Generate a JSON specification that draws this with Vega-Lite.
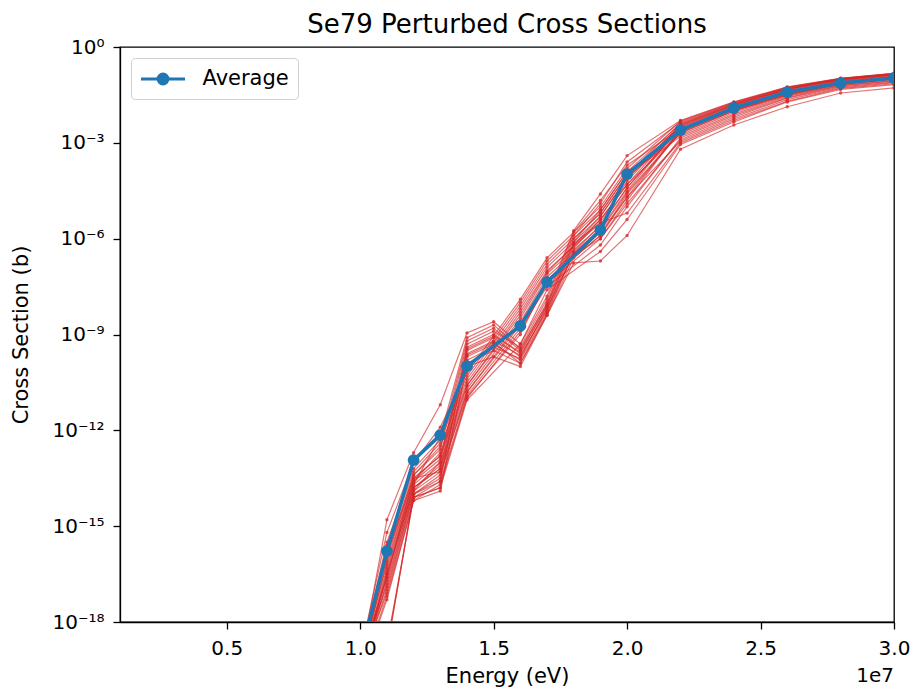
{
"$schema": "https://vega.github.io/schema/vega-lite/v6.json",
"autosize": "none",
"width": 774,
"height": 575,
"padding": {"left": 120, "top": 47, "right": 20, "bottom": 70},
"background": "white",
"title": {"text": "Se79 Perturbed Cross Sections", "fontSize": 26, "fontWeight": "normal", "font": "DejaVu Sans", "color": "black", "offset": -1, "anchor": "middle"},
"config": {
  "font": "DejaVu Sans",
  "view": {"stroke": "black", "strokeWidth": 1.3},
  "axis": {"labelFont": "DejaVu Sans", "titleFont": "DejaVu Sans", "labelFontSize": 20, "titleFontSize": 21, "titleFontWeight": "normal", "labelColor": "black", "titleColor": "black", "tickColor": "black", "domainColor": "black", "tickSize": 7, "tickWidth": 1.3, "domainWidth": 1.3, "grid": false}
},
"datasets": {
"perturbed": [
{"sample":"a1","energy":1.0e7,"xs":5.0e-20},{"sample":"a1","energy":1.1e7,"xs":1.58e-15},{"sample":"a1","energy":1.2e7,"xs":2.0e-13},{"sample":"a1","energy":1.3e7,"xs":6.31e-12},{"sample":"a1","energy":1.4e7,"xs":1.12e-9},{"sample":"a1","energy":1.5e7,"xs":2.51e-9},{"sample":"a1","energy":1.6e7,"xs":5.01e-10},{"sample":"a1","energy":1.7e7,"xs":1.58e-8},{"sample":"a1","energy":1.8e7,"xs":1.78e-6},{"sample":"a1","energy":1.9e7,"xs":2.51e-5},{"sample":"a1","energy":2.0e7,"xs":3.98e-4},{"sample":"a1","energy":2.2e7,"xs":5.01e-3},{"sample":"a1","energy":2.4e7,"xs":1.91e-2},{"sample":"a1","energy":2.6e7,"xs":5.62e-2},{"sample":"a1","energy":2.8e7,"xs":1.05e-1},{"sample":"a1","energy":3.0e7,"xs":1.51e-1},
{"sample":"a2","energy":1.0e7,"xs":3.16e-20},{"sample":"a2","energy":1.1e7,"xs":2.51e-16},{"sample":"a2","energy":1.2e7,"xs":5.01e-14},{"sample":"a2","energy":1.3e7,"xs":3.98e-13},{"sample":"a2","energy":1.4e7,"xs":6.31e-10},{"sample":"a2","energy":1.5e7,"xs":1.58e-9},{"sample":"a2","energy":1.6e7,"xs":3.16e-10},{"sample":"a2","energy":1.7e7,"xs":1.0e-8},{"sample":"a2","energy":1.8e7,"xs":1.26e-6},{"sample":"a2","energy":1.9e7,"xs":1.26e-5},{"sample":"a2","energy":2.0e7,"xs":2.51e-4},{"sample":"a2","energy":2.2e7,"xs":4.47e-3},{"sample":"a2","energy":2.4e7,"xs":1.78e-2},{"sample":"a2","energy":2.6e7,"xs":5.37e-2},{"sample":"a2","energy":2.8e7,"xs":1.02e-1},{"sample":"a2","energy":3.0e7,"xs":1.48e-1},
{"sample":"a3","energy":1.0e7,"xs":6.31e-20},{"sample":"a3","energy":1.1e7,"xs":6.31e-17},{"sample":"a3","energy":1.2e7,"xs":2.51e-14},{"sample":"a3","energy":1.3e7,"xs":1.26e-13},{"sample":"a3","energy":1.4e7,"xs":3.98e-10},{"sample":"a3","energy":1.5e7,"xs":1.0e-9},{"sample":"a3","energy":1.6e7,"xs":2.51e-10},{"sample":"a3","energy":1.7e7,"xs":7.94e-9},{"sample":"a3","energy":1.8e7,"xs":7.94e-7},{"sample":"a3","energy":1.9e7,"xs":7.94e-6},{"sample":"a3","energy":2.0e7,"xs":1.26e-4},{"sample":"a3","energy":2.2e7,"xs":3.98e-3},{"sample":"a3","energy":2.4e7,"xs":1.66e-2},{"sample":"a3","energy":2.6e7,"xs":5.01e-2},{"sample":"a3","energy":2.8e7,"xs":1.0e-1},{"sample":"a3","energy":3.0e7,"xs":1.41e-1},
{"sample":"a4","energy":1.0e7,"xs":2.51e-20},{"sample":"a4","energy":1.1e7,"xs":3.16e-17},{"sample":"a4","energy":1.2e7,"xs":1.58e-14},{"sample":"a4","energy":1.3e7,"xs":6.31e-14},{"sample":"a4","energy":1.4e7,"xs":3.16e-10},{"sample":"a4","energy":1.5e7,"xs":7.94e-10},{"sample":"a4","energy":1.6e7,"xs":2.0e-10},{"sample":"a4","energy":1.7e7,"xs":6.31e-9},{"sample":"a4","energy":1.8e7,"xs":6.31e-7},{"sample":"a4","energy":1.9e7,"xs":5.01e-6},{"sample":"a4","energy":2.0e7,"xs":7.94e-5},{"sample":"a4","energy":2.2e7,"xs":3.55e-3},{"sample":"a4","energy":2.4e7,"xs":1.58e-2},{"sample":"a4","energy":2.6e7,"xs":4.79e-2},{"sample":"a4","energy":2.8e7,"xs":9.55e-2},{"sample":"a4","energy":3.0e7,"xs":1.38e-1},
{"sample":"a5","energy":1.0e7,"xs":3.98e-20},{"sample":"a5","energy":1.1e7,"xs":1.0e-17},{"sample":"a5","energy":1.2e7,"xs":1.0e-14},{"sample":"a5","energy":1.3e7,"xs":3.16e-14},{"sample":"a5","energy":1.4e7,"xs":2.0e-10},{"sample":"a5","energy":1.5e7,"xs":5.01e-10},{"sample":"a5","energy":1.6e7,"xs":1.58e-10},{"sample":"a5","energy":1.7e7,"xs":5.01e-9},{"sample":"a5","energy":1.8e7,"xs":3.98e-7},{"sample":"a5","energy":1.9e7,"xs":2.51e-6},{"sample":"a5","energy":2.0e7,"xs":3.98e-5},{"sample":"a5","energy":2.2e7,"xs":3.16e-3},{"sample":"a5","energy":2.4e7,"xs":1.41e-2},{"sample":"a5","energy":2.6e7,"xs":4.47e-2},{"sample":"a5","energy":2.8e7,"xs":8.91e-2},{"sample":"a5","energy":3.0e7,"xs":1.32e-1},
{"sample":"a6","energy":1.0e7,"xs":1.58e-20},{"sample":"a6","energy":1.1e7,"xs":2.0e-19},{"sample":"a6","energy":1.2e7,"xs":7.94e-15},{"sample":"a6","energy":1.3e7,"xs":1.58e-14},{"sample":"a6","energy":1.4e7,"xs":1.26e-10},{"sample":"a6","energy":1.5e7,"xs":3.16e-10},{"sample":"a6","energy":1.6e7,"xs":1.26e-10},{"sample":"a6","energy":1.7e7,"xs":3.98e-9},{"sample":"a6","energy":1.8e7,"xs":2.51e-7},{"sample":"a6","energy":1.9e7,"xs":1.26e-6},{"sample":"a6","energy":2.0e7,"xs":2.0e-5},{"sample":"a6","energy":2.2e7,"xs":2.51e-3},{"sample":"a6","energy":2.4e7,"xs":1.26e-2},{"sample":"a6","energy":2.6e7,"xs":3.98e-2},{"sample":"a6","energy":2.8e7,"xs":8.32e-2},{"sample":"a6","energy":3.0e7,"xs":1.2e-1},
{"sample":"a7","energy":1.0e7,"xs":7.94e-20},{"sample":"a7","energy":1.1e7,"xs":1.26e-16},{"sample":"a7","energy":1.2e7,"xs":3.98e-14},{"sample":"a7","energy":1.3e7,"xs":2.51e-13},{"sample":"a7","energy":1.4e7,"xs":5.01e-10},{"sample":"a7","energy":1.5e7,"xs":1.26e-9},{"sample":"a7","energy":1.6e7,"xs":3.98e-10},{"sample":"a7","energy":1.7e7,"xs":1.26e-8},{"sample":"a7","energy":1.8e7,"xs":1.58e-6},{"sample":"a7","energy":1.9e7,"xs":1.58e-5},{"sample":"a7","energy":2.0e7,"xs":2.0e-4},{"sample":"a7","energy":2.2e7,"xs":2.82e-3},{"sample":"a7","energy":2.4e7,"xs":1.12e-2},{"sample":"a7","energy":2.6e7,"xs":3.55e-2},{"sample":"a7","energy":2.8e7,"xs":7.59e-2},{"sample":"a7","energy":3.0e7,"xs":1.12e-1},
{"sample":"a8","energy":1.0e7,"xs":5.01e-20},{"sample":"a8","energy":1.1e7,"xs":1.58e-17},{"sample":"a8","energy":1.2e7,"xs":1.26e-14},{"sample":"a8","energy":1.3e7,"xs":1.0e-13},{"sample":"a8","energy":1.4e7,"xs":2.51e-10},{"sample":"a8","energy":1.5e7,"xs":6.31e-10},{"sample":"a8","energy":1.6e7,"xs":2.24e-10},{"sample":"a8","energy":1.7e7,"xs":5.62e-9},{"sample":"a8","energy":1.8e7,"xs":5.01e-7},{"sample":"a8","energy":1.9e7,"xs":3.98e-6},{"sample":"a8","energy":2.0e7,"xs":5.01e-5},{"sample":"a8","energy":2.2e7,"xs":2.0e-3},{"sample":"a8","energy":2.4e7,"xs":1.0e-2},{"sample":"a8","energy":2.6e7,"xs":3.16e-2},{"sample":"a8","energy":2.8e7,"xs":7.08e-2},{"sample":"a8","energy":3.0e7,"xs":1.0e-1},
{"sample":"a9","energy":1.0e7,"xs":2.0e-20},{"sample":"a9","energy":1.1e7,"xs":5.01e-18},{"sample":"a9","energy":1.2e7,"xs":6.31e-15},{"sample":"a9","energy":1.3e7,"xs":1.26e-14},{"sample":"a9","energy":1.4e7,"xs":1.0e-10},{"sample":"a9","energy":1.5e7,"xs":2.0e-10},{"sample":"a9","energy":1.6e7,"xs":1.0e-10},{"sample":"a9","energy":1.7e7,"xs":3.98e-9},{"sample":"a9","energy":1.8e7,"xs":1.74e-7},{"sample":"a9","energy":1.9e7,"xs":2.0e-7},{"sample":"a9","energy":2.0e7,"xs":1.26e-6},{"sample":"a9","energy":2.2e7,"xs":6.31e-4},{"sample":"a9","energy":2.4e7,"xs":3.63e-3},{"sample":"a9","energy":2.6e7,"xs":1.35e-2},{"sample":"a9","energy":2.8e7,"xs":3.63e-2},{"sample":"a9","energy":3.0e7,"xs":5.25e-2},
{"sample":"a10","energy":1.0e7,"xs":3.16e-20},{"sample":"a10","energy":1.1e7,"xs":3.98e-17},{"sample":"a10","energy":1.2e7,"xs":2.0e-14},{"sample":"a10","energy":1.3e7,"xs":6.31e-13},{"sample":"a10","energy":1.4e7,"xs":7.94e-10},{"sample":"a10","energy":1.5e7,"xs":2.0e-9},{"sample":"a10","energy":1.6e7,"xs":3.55e-10},{"sample":"a10","energy":1.7e7,"xs":8.91e-9},{"sample":"a10","energy":1.8e7,"xs":1.0e-6},{"sample":"a10","energy":1.9e7,"xs":6.31e-6},{"sample":"a10","energy":2.0e7,"xs":1.0e-4},{"sample":"a10","energy":2.2e7,"xs":1.58e-3},{"sample":"a10","energy":2.4e7,"xs":7.94e-3},{"sample":"a10","energy":2.6e7,"xs":2.82e-2},{"sample":"a10","energy":2.8e7,"xs":6.31e-2},{"sample":"a10","energy":3.0e7,"xs":8.91e-2},
{"sample":"a11","energy":1.0e7,"xs":3.98e-20},{"sample":"a11","energy":1.1e7,"xs":1.0e-16},{"sample":"a11","energy":1.2e7,"xs":3.16e-14},{"sample":"a11","energy":1.3e7,"xs":5.01e-14},{"sample":"a11","energy":1.4e7,"xs":1.58e-10},{"sample":"a11","energy":1.5e7,"xs":3.98e-10},{"sample":"a11","energy":1.6e7,"xs":1.78e-10},{"sample":"a11","energy":1.7e7,"xs":7.08e-9},{"sample":"a11","energy":1.8e7,"xs":3.16e-7},{"sample":"a11","energy":1.9e7,"xs":1.0e-6},{"sample":"a11","energy":2.0e7,"xs":1.26e-5},{"sample":"a11","energy":2.2e7,"xs":1.26e-3},{"sample":"a11","energy":2.4e7,"xs":6.31e-3},{"sample":"a11","energy":2.6e7,"xs":2.51e-2},{"sample":"a11","energy":2.8e7,"xs":5.62e-2},{"sample":"a11","energy":3.0e7,"xs":7.94e-2},
{"sample":"a12","energy":1.0e7,"xs":1.26e-20},{"sample":"a12","energy":1.1e7,"xs":1.26e-19},{"sample":"a12","energy":1.2e7,"xs":1.0e-14},{"sample":"a12","energy":1.3e7,"xs":2.51e-14},{"sample":"a12","energy":1.4e7,"xs":3.55e-10},{"sample":"a12","energy":1.5e7,"xs":8.91e-10},{"sample":"a12","energy":1.6e7,"xs":2.82e-10},{"sample":"a12","energy":1.7e7,"xs":7.94e-9},{"sample":"a12","energy":1.8e7,"xs":7.08e-7},{"sample":"a12","energy":1.9e7,"xs":3.16e-6},{"sample":"a12","energy":2.0e7,"xs":6.31e-6},{"sample":"a12","energy":2.2e7,"xs":1.0e-3},{"sample":"a12","energy":2.4e7,"xs":5.01e-3},{"sample":"a12","energy":2.6e7,"xs":2.0e-2},{"sample":"a12","energy":2.8e7,"xs":5.01e-2},{"sample":"a12","energy":3.0e7,"xs":7.08e-2},
{"sample":"a13","energy":1.0e7,"xs":6.31e-20},{"sample":"a13","energy":1.1e7,"xs":2.51e-17},{"sample":"a13","energy":1.2e7,"xs":3.16e-14},{"sample":"a13","energy":1.3e7,"xs":1.58e-13},{"sample":"a13","energy":1.4e7,"xs":2.24e-10},{"sample":"a13","energy":1.5e7,"xs":5.62e-10},{"sample":"a13","energy":1.6e7,"xs":1.26e-10},{"sample":"a13","energy":1.7e7,"xs":4.47e-9},{"sample":"a13","energy":1.8e7,"xs":3.55e-7},{"sample":"a13","energy":1.9e7,"xs":1.78e-6},{"sample":"a13","energy":2.0e7,"xs":2.82e-5},{"sample":"a13","energy":2.2e7,"xs":2.24e-3},{"sample":"a13","energy":2.4e7,"xs":1.05e-2},{"sample":"a13","energy":2.6e7,"xs":3.31e-2},{"sample":"a13","energy":2.8e7,"xs":7.41e-2},{"sample":"a13","energy":3.0e7,"xs":1.05e-1},
{"sample":"b1","energy":1.0e7,"xs":1.0e-19},{"sample":"b1","energy":1.1e7,"xs":6.31e-16},{"sample":"b1","energy":1.2e7,"xs":1.0e-13},{"sample":"b1","energy":1.3e7,"xs":1.26e-12},{"sample":"b1","energy":1.4e7,"xs":6.31e-11},{"sample":"b1","energy":1.6e7,"xs":1.26e-8},{"sample":"b1","energy":1.7e7,"xs":2.51e-7},{"sample":"b1","energy":1.9e7,"xs":1.0e-5},{"sample":"b1","energy":2.0e7,"xs":1.58e-4},{"sample":"b1","energy":2.2e7,"xs":4.79e-3},{"sample":"b1","energy":2.4e7,"xs":1.86e-2},{"sample":"b1","energy":2.6e7,"xs":5.5e-2},{"sample":"b1","energy":2.8e7,"xs":1.05e-1},{"sample":"b1","energy":3.0e7,"xs":1.51e-1},
{"sample":"b2","energy":1.0e7,"xs":5.01e-20},{"sample":"b2","energy":1.1e7,"xs":1.58e-16},{"sample":"b2","energy":1.2e7,"xs":3.98e-14},{"sample":"b2","energy":1.3e7,"xs":3.16e-13},{"sample":"b2","energy":1.4e7,"xs":3.98e-11},{"sample":"b2","energy":1.6e7,"xs":7.94e-9},{"sample":"b2","energy":1.7e7,"xs":1.58e-7},{"sample":"b2","energy":1.9e7,"xs":6.31e-6},{"sample":"b2","energy":2.0e7,"xs":1.0e-4},{"sample":"b2","energy":2.2e7,"xs":4.17e-3},{"sample":"b2","energy":2.4e7,"xs":1.74e-2},{"sample":"b2","energy":2.6e7,"xs":5.25e-2},{"sample":"b2","energy":2.8e7,"xs":1.0e-1},{"sample":"b2","energy":3.0e7,"xs":1.45e-1},
{"sample":"b3","energy":1.0e7,"xs":3.16e-20},{"sample":"b3","energy":1.1e7,"xs":5.01e-17},{"sample":"b3","energy":1.2e7,"xs":2.0e-14},{"sample":"b3","energy":1.3e7,"xs":1.0e-13},{"sample":"b3","energy":1.4e7,"xs":2.51e-11},{"sample":"b3","energy":1.6e7,"xs":5.01e-9},{"sample":"b3","energy":1.7e7,"xs":1.0e-7},{"sample":"b3","energy":1.9e7,"xs":3.16e-6},{"sample":"b3","energy":2.0e7,"xs":6.31e-5},{"sample":"b3","energy":2.2e7,"xs":3.8e-3},{"sample":"b3","energy":2.4e7,"xs":1.58e-2},{"sample":"b3","energy":2.6e7,"xs":4.9e-2},{"sample":"b3","energy":2.8e7,"xs":9.77e-2},{"sample":"b3","energy":3.0e7,"xs":1.41e-1},
{"sample":"b4","energy":1.0e7,"xs":6.31e-20},{"sample":"b4","energy":1.1e7,"xs":1.26e-17},{"sample":"b4","energy":1.2e7,"xs":1.0e-14},{"sample":"b4","energy":1.3e7,"xs":3.98e-14},{"sample":"b4","energy":1.4e7,"xs":1.58e-11},{"sample":"b4","energy":1.6e7,"xs":2.51e-9},{"sample":"b4","energy":1.7e7,"xs":6.31e-8},{"sample":"b4","energy":1.9e7,"xs":2.0e-6},{"sample":"b4","energy":2.0e7,"xs":3.16e-5},{"sample":"b4","energy":2.2e7,"xs":3.31e-3},{"sample":"b4","energy":2.4e7,"xs":1.48e-2},{"sample":"b4","energy":2.6e7,"xs":4.68e-2},{"sample":"b4","energy":2.8e7,"xs":9.33e-2},{"sample":"b4","energy":3.0e7,"xs":1.35e-1},
{"sample":"b5","energy":1.0e7,"xs":2.51e-20},{"sample":"b5","energy":1.1e7,"xs":6.31e-18},{"sample":"b5","energy":1.2e7,"xs":6.31e-15},{"sample":"b5","energy":1.3e7,"xs":2.0e-14},{"sample":"b5","energy":1.4e7,"xs":1.0e-11},{"sample":"b5","energy":1.6e7,"xs":1.26e-9},{"sample":"b5","energy":1.7e7,"xs":3.98e-8},{"sample":"b5","energy":1.9e7,"xs":1.0e-6},{"sample":"b5","energy":2.0e7,"xs":1.58e-5},{"sample":"b5","energy":2.2e7,"xs":2.63e-3},{"sample":"b5","energy":2.4e7,"xs":1.2e-2},{"sample":"b5","energy":2.6e7,"xs":3.8e-2},{"sample":"b5","energy":2.8e7,"xs":7.94e-2},{"sample":"b5","energy":3.0e7,"xs":1.17e-1},
{"sample":"b6","energy":1.0e7,"xs":3.98e-20},{"sample":"b6","energy":1.1e7,"xs":7.94e-17},{"sample":"b6","energy":1.2e7,"xs":2.51e-14},{"sample":"b6","energy":1.3e7,"xs":2.0e-13},{"sample":"b6","energy":1.4e7,"xs":3.16e-11},{"sample":"b6","energy":1.6e7,"xs":6.31e-9},{"sample":"b6","energy":1.7e7,"xs":1.26e-7},{"sample":"b6","energy":1.9e7,"xs":5.01e-6},{"sample":"b6","energy":2.0e7,"xs":7.94e-5},{"sample":"b6","energy":2.2e7,"xs":2.4e-3},{"sample":"b6","energy":2.4e7,"xs":1.1e-2},{"sample":"b6","energy":2.6e7,"xs":3.47e-2},{"sample":"b6","energy":2.8e7,"xs":7.59e-2},{"sample":"b6","energy":3.0e7,"xs":1.1e-1},
{"sample":"b7","energy":1.0e7,"xs":7.94e-20},{"sample":"b7","energy":1.1e7,"xs":3.16e-16},{"sample":"b7","energy":1.2e7,"xs":6.31e-14},{"sample":"b7","energy":1.3e7,"xs":5.01e-13},{"sample":"b7","energy":1.4e7,"xs":5.01e-11},{"sample":"b7","energy":1.6e7,"xs":1.0e-8},{"sample":"b7","energy":1.7e7,"xs":2.0e-7},{"sample":"b7","energy":1.9e7,"xs":7.94e-6},{"sample":"b7","energy":2.0e7,"xs":1.26e-4},{"sample":"b7","energy":2.2e7,"xs":1.78e-3},{"sample":"b7","energy":2.4e7,"xs":8.91e-3},{"sample":"b7","energy":2.6e7,"xs":3.02e-2},{"sample":"b7","energy":2.8e7,"xs":6.61e-2},{"sample":"b7","energy":3.0e7,"xs":9.55e-2},
{"sample":"b8","energy":1.0e7,"xs":2.0e-20},{"sample":"b8","energy":1.1e7,"xs":2.0e-17},{"sample":"b8","energy":1.2e7,"xs":1.26e-14},{"sample":"b8","energy":1.3e7,"xs":5.01e-14},{"sample":"b8","energy":1.4e7,"xs":1.26e-11},{"sample":"b8","energy":1.6e7,"xs":1.58e-9},{"sample":"b8","energy":1.7e7,"xs":3.16e-8},{"sample":"b8","energy":1.9e7,"xs":6.31e-7},{"sample":"b8","energy":2.0e7,"xs":1.0e-5},{"sample":"b8","energy":2.2e7,"xs":1.41e-3},{"sample":"b8","energy":2.4e7,"xs":7.08e-3},{"sample":"b8","energy":2.6e7,"xs":2.63e-2},{"sample":"b8","energy":2.8e7,"xs":6.03e-2},{"sample":"b8","energy":3.0e7,"xs":8.51e-2},
{"sample":"b9","energy":1.0e7,"xs":5.01e-20},{"sample":"b9","energy":1.1e7,"xs":7.94e-18},{"sample":"b9","energy":1.2e7,"xs":7.94e-15},{"sample":"b9","energy":1.3e7,"xs":1.58e-14},{"sample":"b9","energy":1.4e7,"xs":8.91e-12},{"sample":"b9","energy":1.6e7,"xs":5.01e-10},{"sample":"b9","energy":1.7e7,"xs":2.51e-8},{"sample":"b9","energy":1.9e7,"xs":3.98e-7},{"sample":"b9","energy":2.0e7,"xs":3.98e-6},{"sample":"b9","energy":2.2e7,"xs":8.91e-4},{"sample":"b9","energy":2.4e7,"xs":4.47e-3},{"sample":"b9","energy":2.6e7,"xs":1.91e-2},{"sample":"b9","energy":2.8e7,"xs":4.68e-2},{"sample":"b9","energy":3.0e7,"xs":6.61e-2},
{"sample":"b10","energy":1.0e7,"xs":3.16e-20},{"sample":"b10","energy":1.1e7,"xs":3.16e-17},{"sample":"b10","energy":1.2e7,"xs":1.58e-14},{"sample":"b10","energy":1.3e7,"xs":7.94e-14},{"sample":"b10","energy":1.4e7,"xs":2.0e-11},{"sample":"b10","energy":1.6e7,"xs":3.16e-9},{"sample":"b10","energy":1.7e7,"xs":7.94e-8},{"sample":"b10","energy":1.9e7,"xs":2.51e-6},{"sample":"b10","energy":2.0e7,"xs":3.98e-5},{"sample":"b10","energy":2.2e7,"xs":3.02e-3},{"sample":"b10","energy":2.4e7,"xs":1.32e-2},{"sample":"b10","energy":2.6e7,"xs":4.17e-2},{"sample":"b10","energy":2.8e7,"xs":8.71e-2},{"sample":"b10","energy":3.0e7,"xs":1.26e-1},
{"sample":"b11","energy":1.0e7,"xs":1.58e-20},{"sample":"b11","energy":1.1e7,"xs":1.58e-19},{"sample":"b11","energy":1.2e7,"xs":7.94e-15},{"sample":"b11","energy":1.3e7,"xs":2.51e-14},{"sample":"b11","energy":1.4e7,"xs":1.12e-11},{"sample":"b11","energy":1.6e7,"xs":1.0e-9},{"sample":"b11","energy":1.7e7,"xs":5.01e-8},{"sample":"b11","energy":1.9e7,"xs":1.26e-6},{"sample":"b11","energy":2.0e7,"xs":2.51e-5},{"sample":"b11","energy":2.2e7,"xs":2.09e-3},{"sample":"b11","energy":2.4e7,"xs":1.0e-2},{"sample":"b11","energy":2.6e7,"xs":3.16e-2},{"sample":"b11","energy":2.8e7,"xs":6.92e-2},{"sample":"b11","energy":3.0e7,"xs":1.0e-1},
{"sample":"b12","energy":1.0e7,"xs":6.31e-20},{"sample":"b12","energy":1.1e7,"xs":1.26e-16},{"sample":"b12","energy":1.2e7,"xs":3.16e-14},{"sample":"b12","energy":1.3e7,"xs":1.58e-13},{"sample":"b12","energy":1.4e7,"xs":2.51e-11},{"sample":"b12","energy":1.6e7,"xs":3.98e-9},{"sample":"b12","energy":1.7e7,"xs":8.91e-8},{"sample":"b12","energy":1.9e7,"xs":3.98e-6},{"sample":"b12","energy":2.0e7,"xs":5.01e-5},{"sample":"b12","energy":2.2e7,"xs":3.55e-3},{"sample":"b12","energy":2.4e7,"xs":1.51e-2},{"sample":"b12","energy":2.6e7,"xs":4.79e-2},{"sample":"b12","energy":2.8e7,"xs":9.55e-2},{"sample":"b12","energy":3.0e7,"xs":1.38e-1},
{"sample":"b13","energy":1.0e7,"xs":3.98e-20},{"sample":"b13","energy":1.1e7,"xs":2.51e-17},{"sample":"b13","energy":1.2e7,"xs":1.58e-14},{"sample":"b13","energy":1.3e7,"xs":6.31e-14},{"sample":"b13","energy":1.4e7,"xs":1.58e-11},{"sample":"b13","energy":1.6e7,"xs":2.0e-9},{"sample":"b13","energy":1.7e7,"xs":5.01e-8},{"sample":"b13","energy":1.9e7,"xs":1.58e-6},{"sample":"b13","energy":2.0e7,"xs":2.0e-5},{"sample":"b13","energy":2.2e7,"xs":1.12e-3},{"sample":"b13","energy":2.4e7,"xs":5.62e-3},{"sample":"b13","energy":2.6e7,"xs":2.24e-2},{"sample":"b13","energy":2.8e7,"xs":5.25e-2},{"sample":"b13","energy":3.0e7,"xs":7.59e-2}
],
"average": [
{"sample":"Average","energy":1.0e7,"xs":7.94e-20},{"sample":"Average","energy":1.1e7,"xs":1.66e-16},{"sample":"Average","energy":1.2e7,"xs":1.17e-13},{"sample":"Average","energy":1.3e7,"xs":7.08e-13},{"sample":"Average","energy":1.4e7,"xs":1.02e-10},{"sample":"Average","energy":1.6e7,"xs":1.86e-9},{"sample":"Average","energy":1.7e7,"xs":4.37e-8},{"sample":"Average","energy":1.9e7,"xs":1.86e-6},{"sample":"Average","energy":2.0e7,"xs":1.05e-4},{"sample":"Average","energy":2.2e7,"xs":2.51e-3},{"sample":"Average","energy":2.4e7,"xs":1.23e-2},{"sample":"Average","energy":2.6e7,"xs":3.89e-2},{"sample":"Average","energy":2.8e7,"xs":7.41e-2},{"sample":"Average","energy":3.0e7,"xs":1.07e-1}
],
"offset": [{"energy": 3.0e7, "xs": 1e-18, "label": "1e7"}]
},
"encoding": {
  "x": {"field": "energy", "type": "quantitative", "scale": {"type": "linear", "domain": [1000000, 30000000], "nice": false, "zero": false},
        "axis": {"title": "Energy (eV)", "values": [5000000, 10000000, 15000000, 20000000, 25000000, 30000000], "labelExpr": "format(datum.value / 10000000, '.1f')", "labelPadding": 9, "titlePadding": 7, "labelFlush": false}},
  "y": {"field": "xs", "type": "quantitative", "scale": {"type": "log", "domain": [1e-18, 1], "nice": false},
        "axis": {"title": "Cross Section (b)", "values": [1e-18, 1e-15, 1e-12, 1e-9, 1e-6, 1e-3, 1], "labelExpr": "datum.value >= 0.5 ? '10⁰' : datum.value >= 5e-4 ? '10⁻³' : datum.value >= 5e-7 ? '10⁻⁶' : datum.value >= 5e-10 ? '10⁻⁹' : datum.value >= 5e-13 ? '10⁻¹²' : datum.value >= 5e-16 ? '10⁻¹⁵' : '10⁻¹⁸'", "labelPadding": 9, "titleX": -89, "labelFlush": false}}
},
"layer": [
  {
    "data": {"name": "perturbed"},
    "mark": {"type": "line", "clip": true, "color": "#d62728", "strokeWidth": 1.2, "opacity": 0.65, "point": {"filled": true, "size": 12, "color": "#d62728", "opacity": 0.75}},
    "encoding": {"detail": {"field": "sample", "type": "nominal"}}
  },
  {
    "data": {"name": "average"},
    "mark": {"type": "line", "clip": true, "strokeWidth": 3.5, "point": {"filled": true, "size": 140}},
    "encoding": {
      "color": {"field": "sample", "type": "nominal", "scale": {"domain": ["Average"], "range": ["#1f77b4"]},
        "legend": {"title": null, "orient": "none", "legendX": 11, "legendY": 11, "padding": 8.5, "labelFontSize": 21, "labelFont": "DejaVu Sans", "labelColor": "black", "labelOffset": 38, "symbolType": "M-1,0H3M1.45,0A0.45,0.45,0,1,1,0.55,0A0.45,0.45,0,1,1,1.45,0Z", "symbolSize": 484, "symbolStrokeWidth": 3, "symbolStrokeColor": "#1f77b4", "symbolFillColor": "#1f77b4", "strokeColor": "#d0d0d0", "cornerRadius": 4, "fillColor": "rgba(255,255,255,0.8)"}}
    }
  },
  {
    "data": {"name": "offset"},
    "mark": {"type": "text", "align": "right", "baseline": "top", "dy": 44, "fontSize": 20, "font": "DejaVu Sans", "color": "black"},
    "encoding": {"text": {"field": "label", "type": "nominal"}}
  }
]
}
